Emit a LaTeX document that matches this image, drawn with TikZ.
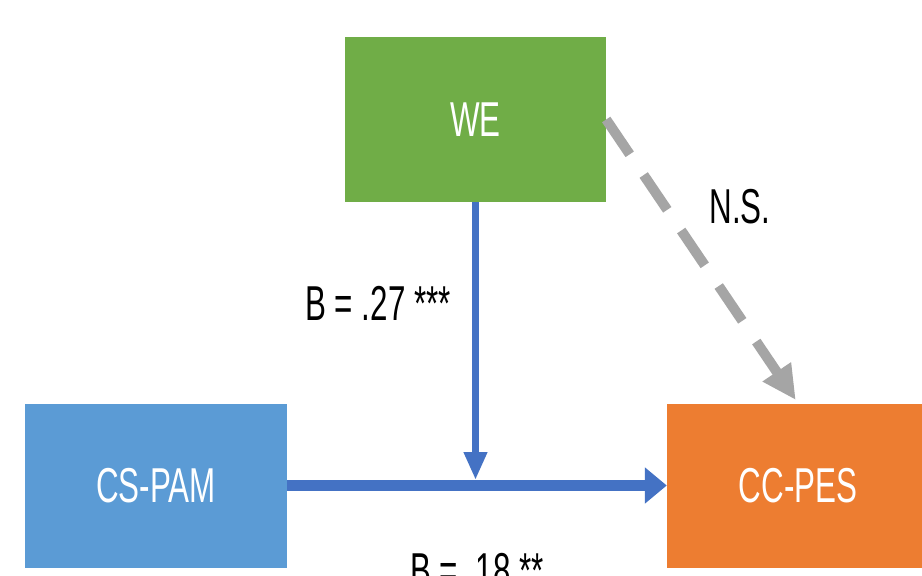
\documentclass[tikz,border=0pt]{standalone}
\usepackage{fontspec}
\setmainfont{Liberation Sans}
\usetikzlibrary{arrows.meta}
\definecolor{weGreen}{HTML}{70AD47}
\definecolor{camBlue}{HTML}{5B9BD5}
\definecolor{pesOrange}{HTML}{ED7D31}
\definecolor{pathBlue}{HTML}{4472C4}
\definecolor{nsGray}{HTML}{A5A5A5}
% condensed lettering used throughout
\newcommand\narrowtext[1]{\scalebox{0.64}[1]{#1}}
\tikzset{
  bigfont/.style={font=\fontsize{49}{58}\selectfont},
  varbox/.style={bigfont, minimum width=262pt, minimum height=164pt,
    inner sep=0pt, text=white},
  coef/.style={bigfont, inner sep=0pt, anchor=base, text=black},
  effect/.style={pathBlue},
  nseffect/.style={nsGray, line width=10pt, dash pattern=on 42pt off 25pt,
    -{Triangle[width=32pt,length=34pt]}, shorten >=4pt}
}
\begin{document}
\begin{tikzpicture}[x=1pt,y=-1pt]
\useasboundingbox (0,0) rectangle (922,576);
\clip (0,0) rectangle (922,576);
\fill[white] (0,0) rectangle (922,576);

% variables
\node[varbox, fill=weGreen, minimum width=261pt, minimum height=165pt] (we) at (475.5,119.5) {\narrowtext{WE}};
\node[varbox, fill=camBlue] (cspam) at (156,485.5) {\narrowtext{CS-PAM}};
\node[varbox, fill=pesOrange] (ccpes) at (798,485.5) {\narrowtext{CC-PES}};

% moderation point on the main path
\coordinate (join) at (475.5,480);

% paths
\draw[effect, line width=11pt, -{Triangle[width=35pt,length=22pt]}] (cspam.east) -- (ccpes.west);
\draw[effect, line width=7pt, -{Triangle[width=22pt,length=28pt]}] (we.south) -- (join);
\draw[nseffect] (we.east) -- (ccpes.north);

% coefficients
\node[coef] (b27) at (378,320) {\narrowtext{B = .27 ***}};
\node[coef] (ns) at (740,223) {\narrowtext{N.S.}};
\node[coef] (b18) at (477,587) {\narrowtext{B = .18 **}};
\end{tikzpicture}
\end{document}
